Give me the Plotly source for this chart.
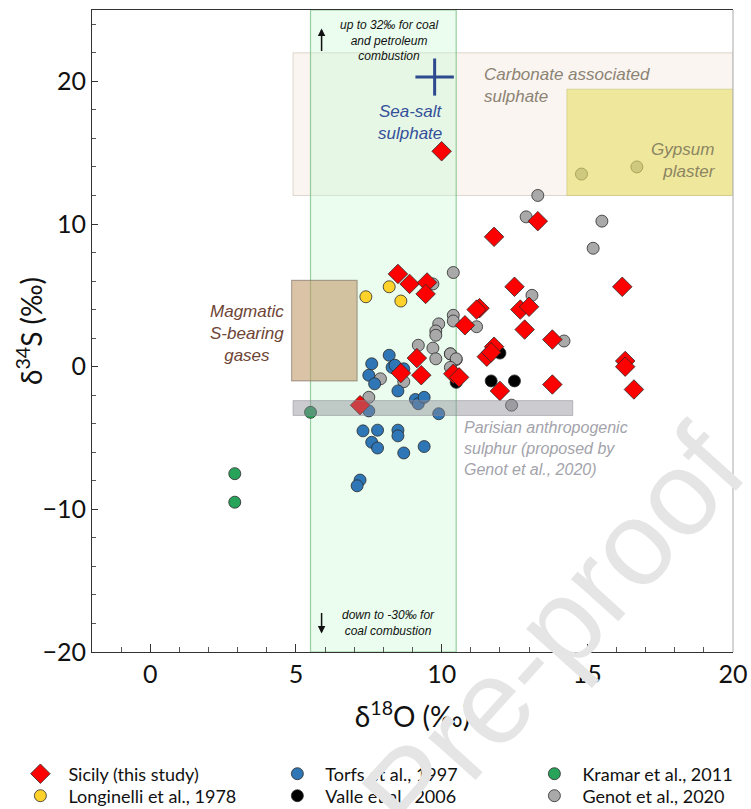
import plotly.graph_objects as go

# ---- data: d18O (x) and d34S (y), per source ----
sicily_x = [10.0, 11.8, 13.3, 12.5, 16.2, 11.3, 11.2, 12.7, 13.0, 10.8, 12.85, 13.8, 11.8, 11.55, 11.7,
            10.4, 10.6, 12.0, 13.8, 16.3, 16.3, 16.6, 8.5, 8.9, 9.5, 9.45, 9.15, 8.6, 9.3, 7.2]
sicily_y = [15.1, 9.1, 10.2, 5.6, 5.6, 4.1, 4.0, 4.0, 4.2, 2.9, 2.6, 1.9, 1.4, 0.7, 1.0,
            -0.5, -0.75, -1.7, -1.25, 0.4, 0.0, -1.6, 6.5, 5.8, 5.9, 5.1, 0.6, -0.45, -0.6, -2.7]

torfs_x = [8.2, 7.6, 7.5, 7.7, 8.3, 8.4, 8.7, 8.5, 9.1, 9.2, 9.4, 7.5, 9.9, 7.3, 7.8, 8.5, 8.5,
           7.6, 7.8, 9.4, 8.7, 7.2, 7.1]
torfs_y = [0.8, 0.2, -0.6, -1.2, -0.05, 0.1, -0.15, -1.7, -2.3, -2.6, -2.15, -3.1, -3.3, -4.5, -4.45,
           -4.45, -4.85, -5.3, -5.7, -5.6, -6.05, -7.95, -8.35]

kramar_x = [5.5, 2.9, 2.9]
kramar_y = [-3.2, -7.5, -9.5]

longinelli_x = [7.4, 8.2, 8.6]
longinelli_y = [4.9, 5.6, 4.6]

valle_x = [12.0, 11.7, 12.5, 10.5]
valle_y = [0.95, -1.0, -1.0, -1.1]

genot_x = [13.3, 12.9, 15.5, 15.2, 10.4, 13.1, 10.4, 10.4, 11.2, 14.2, 10.3, 10.5, 14.8, 16.7,
           12.4, 9.9, 9.8, 9.8, 9.2, 9.7, 9.8, 10.3, 10.5, 10.3, 8.7, 7.9, 7.5, 9.7]
genot_y = [12.0, 10.5, 10.2, 8.3, 6.6, 5.0, 3.6, 3.2, 2.8, 1.8, 0.9, 0.5, 13.5, 14.0,
           -2.7, 3.0, 2.5, 2.2, 1.5, 1.3, 0.55, 0.9, 0.55, -0.05, -1.05, -0.85, -2.15, 5.8]

series = [
    # name, x, y, symbol, colour, size, legend slot (2 rows x 3 columns)
    ("Genot et al., 2020", genot_x, genot_y, "circle", "#a9a9a9", 12, "legend6"),
    ("Torfs et al., 1997", torfs_x, torfs_y, "circle", "#2f76b7", 12, "legend2"),
    ("Longinelli et al., 1978", longinelli_x, longinelli_y, "circle", "#ffd12b", 12, "legend4"),
    ("Valle et al., 2006", valle_x, valle_y, "circle", "#000000", 12, "legend5"),
    ("Kramar et al., 2011", kramar_x, kramar_y, "circle", "#27a35a", 12, "legend3"),
    ("Sicily (this study)", sicily_x, sicily_y, "diamond", "#ff0000", 15, "legend"),
]

fig = go.Figure()
for name, xs, ys, sym, col, size, leg in series:
    fig.add_trace(go.Scatter(
        x=xs, y=ys, mode="markers", name=name, legend=leg, showlegend=True,
        marker=dict(symbol=sym, color=col, size=size,
                    line=dict(color="#2a2a2a", width=0.8)),
    ))

# ---- source fields ----
shapes = [
    # carbonate associated sulphate
    dict(type="rect", x0=4.9, x1=20, y0=12, y1=22, layer="below",
         fillcolor="rgba(240,226,212,0.35)", line=dict(color="rgba(205,190,175,0.6)", width=1)),
    # coal / petroleum combustion band
    dict(type="rect", x0=5.5, x1=10.5, y0=-20, y1=25, layer="below",
         fillcolor="rgba(200,250,210,0.38)", line=dict(color="rgba(110,185,120,0.7)", width=1.2)),
    # magmatic gases
    dict(type="rect", x0=4.85, x1=7.1, y0=-1, y1=6.05, layer="below",
         fillcolor="rgba(190,145,95,0.55)", line=dict(color="rgba(120,110,100,0.55)", width=1.2)),
    # gypsum plaster
    dict(type="rect", x0=14.3, x1=20, y0=12, y1=19.45, layer="above",
         fillcolor="rgba(232,224,100,0.6)", line=dict(color="rgba(200,195,120,0.6)", width=1)),
    # Parisian anthropogenic sulphur
    dict(type="rect", x0=4.9, x1=14.5, y0=-3.42, y1=-2.38, layer="above",
         fillcolor="rgba(140,140,150,0.45)", line=dict(color="rgba(140,140,150,0.5)", width=1)),
    # sea-salt sulphate cross
    dict(type="line", x0=9.1, x1=10.42, y0=20.3, y1=20.3, layer="above",
         line=dict(color="#2d4a8e", width=3)),
    dict(type="line", x0=9.76, x1=9.76, y0=19.0, y1=21.6, layer="above",
         line=dict(color="#2d4a8e", width=3)),
    # right frame edge
    dict(type="line", xref="paper", yref="paper", x0=1, x1=1, y0=0, y1=1,
         line=dict(color="#b8b8b8", width=1.2)),
]
fig.update_layout(shapes=shapes)

ital = "Liberation Sans"
notes = [
    ("<i>up to 32‰ for coal<br>and petroleum<br>combustion</i>", 8.18, 22.86, "center", 12, "#111111"),
    ("<i>down to -30‰ for<br>coal combustion</i>", 8.18, -17.98, "center", 12, "#111111"),
    ("<i>Sea-salt<br>sulphate</i>", 8.93, 17.13, "center", 17, "#34509a"),
    ("<i>Carbonate associated<br>sulphate</i>", 11.37, 19.7, "left", 17, "#8c8374"),
    ("<i>Gypsum<br>plaster</i>", 19.48, 14.47, "right", 17, "#8c8562"),
    ("<i>Magmatic<br>S-bearing<br>gases</i>", 3.33, 2.35, "center", 17, "#6e4535"),
    ("<i>Parisian anthropogenic<br>sulphur (proposed by<br>Genot et al., 2020)</i>", 10.69, -5.72, "left", 16, "#a3a3ab"),
]
for txt, x, y, al, fs, col in notes:
    fig.add_annotation(x=x, y=y, text=txt, showarrow=False, xanchor=al, align=al,
                       font=dict(family=ital, size=fs, color=col))

# arrows showing the combustion range beyond the axes
fig.add_annotation(x=5.88, y=23.7, ax=0, ay=24, text="", showarrow=True,
                   arrowhead=2, arrowsize=1, arrowwidth=1.5, arrowcolor="#111111")
fig.add_annotation(x=5.88, y=-18.7, ax=0, ay=-22, text="", showarrow=True,
                   arrowhead=2, arrowsize=1, arrowwidth=1.5, arrowcolor="#111111")

# y-axis title placed by hand
fig.add_annotation(xref="paper", yref="paper", x=-0.0983, y=0.5, xanchor="center", yanchor="middle",
                   text="δ<sup>34</sup>S (‰)", textangle=-90, showarrow=False,
                   font=dict(family="Lato", size=28, color="#111111"))

# watermark
fig.add_annotation(xref="paper", yref="paper", x=(410 - 92) / 641, y=(652 - 790) / 642,
                   xanchor="center", yanchor="middle", text="Journal Pre-proof",
                   showarrow=False, textangle=-48,
                   font=dict(family="Liberation Sans", size=120, color="#e5e5e5"))

tickfont = dict(family="Lato", size=25, color="#111111")
fig.update_xaxes(range=[-2, 20], tick0=0, dtick=5, ticks="inside", ticklen=8, tickwidth=1,
                 tickcolor="#333333", showline=True, linecolor="#333333", linewidth=1.2,
                 mirror=True, showgrid=False, zeroline=False, tickfont=tickfont,
                 minor=dict(dtick=1, ticks="inside", ticklen=5, tickcolor="#555555"),
                 title=dict(text="δ<sup>18</sup>O (‰)", font=dict(family="Lato", size=28, color="#111111"),
                            standoff=20))
fig.update_yaxes(range=[-20, 25], tick0=0, dtick=10, ticks="inside", ticklen=6, tickwidth=1,
                 tickcolor="#333333", showline=True, linecolor="#333333", linewidth=1.2,
                 mirror=False, showgrid=False, zeroline=False, tickfont=tickfont,
                 minor=dict(dtick=2, ticks="inside", ticklen=4, tickcolor="#555555"))

# legend: one slot per entry, arranged in 2 rows x 3 columns
legfont = dict(family="Lato", size=18, color="#111111")
col_x = [-0.1242, 0.2767, 0.6777]
row_y = [(652 - 774) / 642, (652 - 796) / 642]
slots = ["legend", "legend2", "legend3", "legend4", "legend5", "legend6"]
legends = {}
for i, key in enumerate(slots):
    legends[key] = dict(x=col_x[i % 3], y=row_y[i // 3], xanchor="left", yanchor="middle",
                        orientation="v", itemwidth=46, font=legfont, bgcolor="rgba(0,0,0,0)",
                        visible=True)

fig.update_layout(
    width=751, height=809, showlegend=True,
    margin=dict(l=92, r=18, t=10, b=157, autoexpand=False),
    paper_bgcolor="white", plot_bgcolor="white",
    **legends,
)

fig.write_html("out.html")
